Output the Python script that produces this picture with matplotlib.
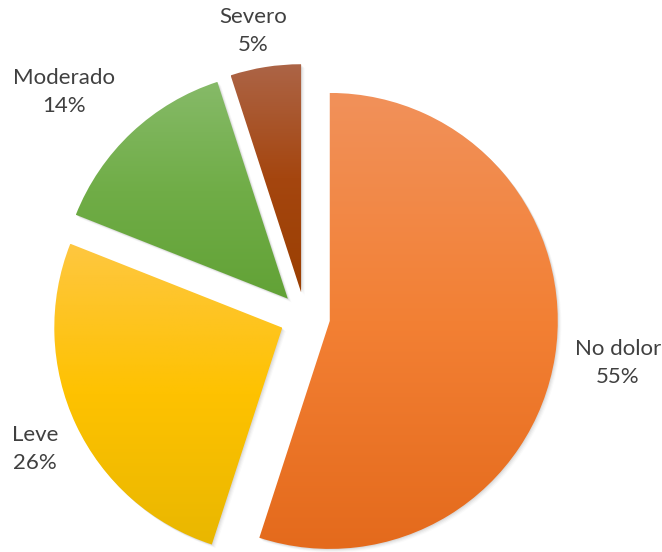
import matplotlib
matplotlib.use('Agg')
import matplotlib.pyplot as plt
import numpy as np
from matplotlib.colors import LinearSegmentedColormap
from matplotlib.patches import Wedge

# datos
labels = ['No dolor', 'Leve', 'Moderado', 'Severo']
values = [55, 26, 14, 5]
top_colors = ['#F1915A', '#FEC740', '#86BA68', '#AC6446']
mid_colors = ['#F38034', '#FEC200', '#70AD47', '#A5460F']
bot_colors = ['#E46A1C', '#E9B700', '#62A236', '#9A3F02']

# posiciones de etiquetas (pixeles en la imagen)
label_px = [(618, 363), (35, 449), (64, 92), (253, 31)]

W, H = 662, 552
cx, cy, R = 305, 317, 228   # centro y radio en pixeles

fig = plt.figure(figsize=(W/100, H/100), dpi=100)
ax = fig.add_axes([0, 0, 1, 1])

wedges, _ = ax.pie(values, startangle=90, counterclock=False,
                   explode=[0.11]*4, radius=1)

for i, w in enumerate(wedges):
    # sombra suave
    for k, a in enumerate([0.05, 0.04, 0.03, 0.02]):
        off = 0.004*(k+1)
        s = Wedge((w.center[0]+off, w.center[1]-off), w.r, w.theta1, w.theta2,
                  facecolor='black', edgecolor='none', alpha=a, zorder=1)
        ax.add_patch(s)
    w.set_facecolor('none')
    w.set_edgecolor('none')
    w.set_zorder(2)
    ext = w.get_path().get_extents()
    cmap = LinearSegmentedColormap.from_list('g%d' % i, [bot_colors[i], mid_colors[i], top_colors[i]])
    grad = np.linspace(0, 1, 256).reshape(-1, 1)
    im = ax.imshow(grad, cmap=cmap, origin='lower', aspect='auto',
                   extent=[ext.x0, ext.x1, ext.y0, ext.y1], zorder=3)
    im.set_clip_path(w)

for lab, v, (px, py) in zip(labels, values, label_px):
    ax.text((px-cx)/R, (cy-py)/R, '%s\n%d%%' % (lab, v), ha='center', va='center',
            fontsize=16, family=['Lato', 'DejaVu Sans'], color='#404040',
            linespacing=1.45, zorder=5)

ax.set_xlim(-cx/R, (W-cx)/R)
ax.set_ylim(-(H-cy)/R, cy/R)
ax.set_aspect('auto')
ax.axis('off')

fig.savefig('out.png', dpi=100, facecolor='white')
